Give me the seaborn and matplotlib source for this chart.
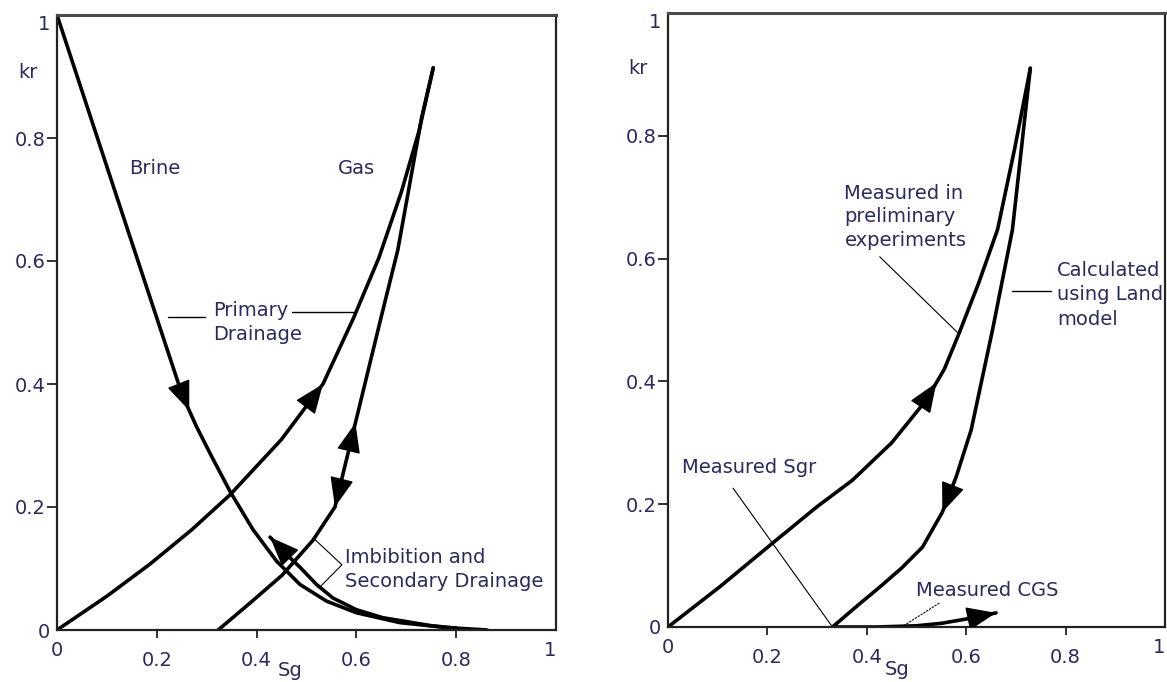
import numpy as np
import pandas as pd
import matplotlib
matplotlib.use("Agg")
import matplotlib.pyplot as plt
from matplotlib.patches import FancyArrowPatch
import seaborn as sns

# ---------------- data ----------------
# Left panel
L_brine_dr_x = [0.0, 0.122, 0.251, 0.280, 0.310, 0.347, 0.393, 0.440, 0.487, 0.540, 0.600, 0.687, 0.780, 0.862]
L_brine_dr_y = [1.0, 0.699, 0.382, 0.330, 0.282, 0.225, 0.163, 0.112, 0.074, 0.047, 0.028, 0.012, 0.004, 0.0]
L_brine_im_x = [0.427, 0.461, 0.487, 0.520, 0.553, 0.600, 0.653, 0.750, 0.800]
L_brine_im_y = [0.151, 0.122, 0.102, 0.074, 0.052, 0.033, 0.020, 0.007, 0.003]
L_gas_dr_x = [0.0, 0.100, 0.186, 0.270, 0.347, 0.450, 0.533, 0.593, 0.645, 0.690, 0.725, 0.754]
L_gas_dr_y = [0.0, 0.055, 0.107, 0.163, 0.220, 0.310, 0.400, 0.505, 0.605, 0.712, 0.810, 0.914]
L_gas_im_x = [0.323, 0.387, 0.451, 0.513, 0.557, 0.590, 0.620, 0.650, 0.683, 0.713, 0.731, 0.754]
L_gas_im_y = [0.0, 0.044, 0.089, 0.146, 0.200, 0.310, 0.410, 0.510, 0.618, 0.753, 0.834, 0.914]

# Right panel
R_gas_meas_x = [0.0, 0.105, 0.211, 0.300, 0.371, 0.450, 0.520, 0.556, 0.586, 0.625, 0.663, 0.697, 0.729]
R_gas_meas_y = [0.0, 0.066, 0.137, 0.196, 0.239, 0.300, 0.370, 0.420, 0.479, 0.560, 0.647, 0.777, 0.910]
R_land_x = [0.331, 0.380, 0.426, 0.470, 0.512, 0.552, 0.580, 0.610, 0.653, 0.693, 0.729]
R_land_y = [0.0, 0.034, 0.065, 0.096, 0.130, 0.187, 0.245, 0.321, 0.484, 0.647, 0.910]
R_cgs_x = [0.331, 0.420, 0.500, 0.550, 0.600, 0.660]
R_cgs_y = [0.0, 0.0, 0.002, 0.006, 0.013, 0.023]

tick_vals = [0.2, 0.4, 0.6, 0.8]
tick_labels = ["0.2", "0.4", "0.6", "0.8"]
end_vals = [0, 1]
end_labels = ["0", "1"]

# arrows: (curve name, x of tip, direction along x)
L_arrows = [("brine_dr", 0.265, +1), ("gas_dr", 0.533, +1), ("gas_im", 0.598, +1),
            ("gas_im", 0.557, -1), ("brine_im", 0.427, -1)]
R_arrows = [("gas_meas", 0.540, +1), ("land", 0.552, -1), ("cgs", 0.660, +1)]

TXT = "#2b2a5e"

sns.set_theme(style="white")
plt.rcParams["font.family"] = ["DejaVu Sans"]
plt.rcParams["text.color"] = TXT

fig = plt.figure(figsize=(11.67, 6.82), dpi=100)
axL = fig.add_axes([57 / 1167, 1 - 630 / 682, 499 / 1167, 615 / 682])
axR = fig.add_axes([668 / 1167, 1 - 627 / 682, 497 / 1167, 614 / 682])

FS = 14


def curve_df(x, y):
    return pd.DataFrame({"Sg": x, "kr": y})


def draw_curves(ax, curves):
    for key, (x, y) in curves.items():
        sns.lineplot(data=curve_df(x, y), x="Sg", y="kr", ax=ax, color="black",
                     lw=2.6, sort=False, estimator=None, legend=False)


def draw_arrow(ax, x, y, xt, direction):
    x = np.asarray(x, float)
    y = np.asarray(y, float)
    yt = np.interp(xt, x, y)
    tip_d = ax.transData.transform((xt, yt))
    xs = np.linspace(xt, xt - direction * 0.3, 600)
    ys = np.interp(xs, x, y)
    pts = ax.transData.transform(np.column_stack([xs, ys]))
    dist = np.hypot(pts[:, 0] - tip_d[0], pts[:, 1] - tip_d[1])
    idx = int(np.argmax(dist > 30)) if np.any(dist > 30) else len(xs) - 1
    tail = (xs[idx], ys[idx])
    arr = FancyArrowPatch(tail, (xt, yt), arrowstyle="-|>,head_length=0.95,head_width=0.38",
                          mutation_scale=20, color="black", lw=1.0, shrinkA=0, shrinkB=0,
                          zorder=5)
    ax.add_patch(arr)


def style_axes(ax):
    ax.set_xlim(0, 1)
    ax.set_ylim(0, 1)
    ax.set_xticks(tick_vals)
    ax.set_xticklabels(tick_labels)
    ax.set_yticks(tick_vals)
    ax.set_yticklabels(tick_labels)
    ax.set_xticks(end_vals, minor=True)
    ax.set_xticklabels(end_labels, minor=True)
    ax.set_yticks(end_vals, minor=True)
    ax.set_yticklabels(end_labels, minor=True)
    ax.tick_params(axis="x", which="major", direction="out", length=6, width=1.3,
                   color="#222222", pad=9, labelsize=FS, labelcolor=TXT, bottom=True)
    ax.tick_params(axis="y", which="major", direction="out", length=7.5, width=1.3,
                   color="#222222", pad=1, labelsize=FS, labelcolor=TXT, left=True)
    ax.tick_params(axis="x", which="minor", length=0, pad=8, labelsize=FS, labelcolor=TXT)
    ax.tick_params(axis="y", which="minor", length=0, pad=5, labelsize=FS, labelcolor=TXT)
    xl = ax.get_xticklabels(minor=True)
    xl[1].set_horizontalalignment("right")
    yl = ax.get_yticklabels(minor=True)
    yl[1].set_verticalalignment("top")
    ax.set_xlabel("")
    ax.set_ylabel("")
    for side in ["left", "bottom", "right"]:
        ax.spines[side].set_visible(True)
        ax.spines[side].set_color("#222222")
        ax.spines[side].set_linewidth(1.6)
    ax.spines["top"].set_visible(True)
    ax.spines["top"].set_color("#4a4a4a")
    ax.spines["top"].set_linewidth(2.2)
    ax.grid(False)
    ax.set_facecolor("white")


# ---------------- left panel ----------------
L_curves = {
    "brine_dr": (L_brine_dr_x, L_brine_dr_y),
    "brine_im": (L_brine_im_x, L_brine_im_y),
    "gas_dr": (L_gas_dr_x, L_gas_dr_y),
    "gas_im": (L_gas_im_x, L_gas_im_y),
}
draw_curves(axL, L_curves)
style_axes(axL)
for name, xt, d in L_arrows:
    draw_arrow(axL, *L_curves[name], xt, d)

axL.text(-0.058, 0.907, "kr", fontsize=FS, ha="center", va="center", clip_on=False)
axL.text(0.467, -0.066, "Sg", fontsize=FS, ha="center", va="center", clip_on=False)
axL.text(0.196, 0.751, "Brine", fontsize=FS, ha="center", va="center")
axL.text(0.601, 0.751, "Gas", fontsize=FS, ha="center", va="center")
axL.text(0.313, 0.50, "Primary\nDrainage", fontsize=FS, ha="left", va="center", linespacing=1.4)
axL.plot([0.222, 0.297], [0.509, 0.509], color="black", lw=1.0)
axL.plot([0.471, 0.593], [0.517, 0.517], color="black", lw=1.0)
axL.text(0.577, 0.098, "Imbibition and\nSecondary Drainage", fontsize=FS, ha="left",
         va="center", linespacing=1.35)
axL.plot([0.513, 0.571, 0.527], [0.150, 0.106, 0.070], color="black", lw=0.8)

# ---------------- right panel ----------------
R_curves = {
    "gas_meas": (R_gas_meas_x, R_gas_meas_y),
    "land": (R_land_x, R_land_y),
    "cgs": (R_cgs_x, R_cgs_y),
}
draw_curves(axR, R_curves)
style_axes(axR)
for name, xt, d in R_arrows:
    draw_arrow(axR, *R_curves[name], xt, d)

axR.text(-0.06, 0.910, "kr", fontsize=FS, ha="center", va="center", clip_on=False)
axR.text(0.462, -0.070, "Sg", fontsize=FS, ha="center", va="center", clip_on=False)
axR.text(0.355, 0.668, "Measured in\npreliminary\nexperiments", fontsize=FS, ha="left",
         va="center", linespacing=1.3)
axR.plot([0.426, 0.582], [0.603, 0.480], color="black", lw=0.8)
axR.text(0.783, 0.541, "Calculated\nusing Land\nmodel", fontsize=FS, ha="left",
         va="center", linespacing=1.35)
axR.plot([0.693, 0.771], [0.547, 0.547], color="black", lw=1.0)
axR.text(0.028, 0.259, "Measured Sgr", fontsize=FS, ha="left", va="center")
axR.plot([0.131, 0.331], [0.226, 0.0], color="black", lw=0.8)
axR.text(0.498, 0.060, "Measured CGS", fontsize=FS, ha="left", va="center")
axR.plot([0.546, 0.476], [0.039, 0.003], color="black", lw=0.8, ls=(0, (2, 1)))

fig.savefig("out.png", dpi=100, facecolor="white")
